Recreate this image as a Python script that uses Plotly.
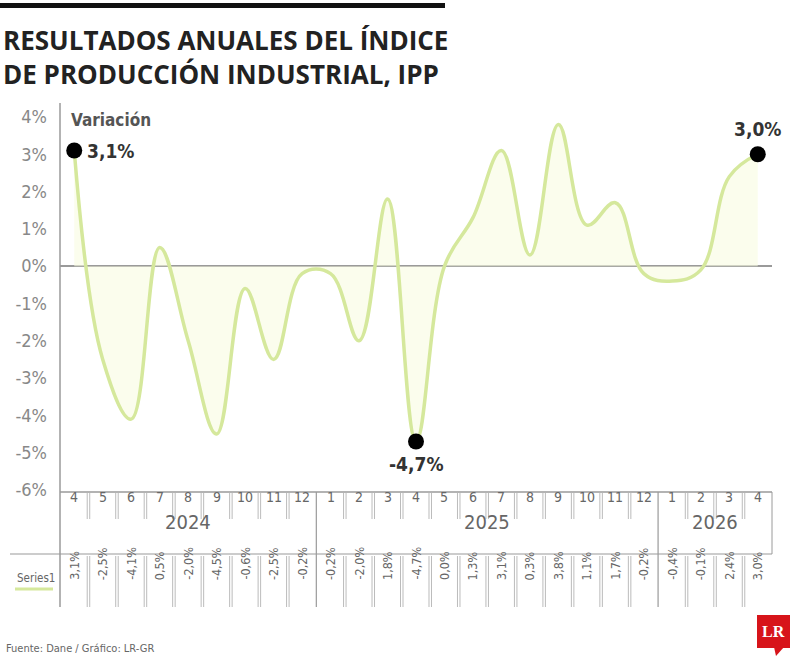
import plotly.graph_objects as go

months = ["4","5","6","7","8","9","10","11","12",
          "1","2","3","4","5","6","7","8","9","10","11","12",
          "1","2","3","4"]
years = ["2024", "2025", "2026"]
year_spans = [(0, 8), (9, 20), (21, 24)]
values = [3.1, -2.5, -4.1, 0.5, -2.0, -4.5, -0.6, -2.5, -0.2,
          -0.2, -2.0, 1.8, -4.7, 0.0, 1.3, 3.1, 0.3, 3.8, 1.1, 1.7, -0.2,
          -0.4, -0.1, 2.4, 3.0]
highlight = [0, 12, 24]
yticks = [4, 3, 2, 1, 0, -1, -2, -3, -4, -5, -6]

W, H = 800, 666
L, R, T, B = 60, 28, 105, 176
PW, PH = W - L - R, H - T - B


def px(p):
    return (p - L) / PW


def py(p):
    return (H - B - p) / PH


def fmt(v):
    return f"{v:.1f}%".replace(".", ",")


xs = list(range(len(values)))
LINE = "#d5e89c"
GRID = "#9a9a9a"
COND = "DejaVu Sans Condensed"

fig = go.Figure()
fig.add_trace(go.Scatter(
    x=xs, y=values, mode="lines",
    line=dict(color=LINE, width=3.5, shape="spline", smoothing=1.1),
    fill="tozeroy", fillcolor="rgba(248,252,225,0.6)",
    hoverinfo="skip", showlegend=False))
fig.add_trace(go.Scatter(
    x=[xs[i] for i in highlight], y=[values[i] for i in highlight],
    mode="markers", marker=dict(color="black", size=16),
    hoverinfo="skip", showlegend=False))

shapes = []
annotations = []

# top bar
shapes.append(dict(type="rect", xref="paper", yref="paper",
                   x0=px(0), x1=px(445), y0=py(3), y1=py(8),
                   fillcolor="#111111", line=dict(width=0)))
# title
annotations.append(dict(xref="paper", yref="paper", x=px(1), y=py(20),
                        xanchor="left", yanchor="top", align="left",
                        text="<b>RESULTADOS ANUALES DEL ÍNDICE<br>DE PRODUCCIÓN INDUSTRIAL, IPP</b>",
                        showarrow=False,
                        font=dict(family="Open Sans", size=26, color="#222222")))

# Variación
annotations.append(dict(xref="paper", yref="paper", x=px(69), y=py(120),
                        xanchor="left", yanchor="middle", text="<b>Variación</b>",
                        showarrow=False,
                        font=dict(family=COND, size=17, color="#555555")))

# point labels
lab_font = dict(family=COND, size=19, color="#333333")
annotations.append(dict(x=xs[0], y=values[0], text="<b>" + fmt(values[0]) + "</b>",
                        showarrow=False, xanchor="left", xshift=11, yanchor="middle",
                        font=lab_font))
annotations.append(dict(x=xs[12], y=values[12], text="<b>" + fmt(values[12]) + "</b>",
                        showarrow=False, yanchor="top", yshift=-9, font=lab_font))
annotations.append(dict(x=xs[24], y=values[24], text="<b>" + fmt(values[24]) + "</b>",
                        showarrow=False, yanchor="bottom", yshift=12, font=lab_font))

# y-axis vertical line extended through table
shapes.append(dict(type="line", xref="paper", yref="paper",
                   x0=0, x1=0, y0=py(607), y1=py(103),
                   line=dict(color=GRID, width=1.5)))
# table top line
shapes.append(dict(type="line", xref="paper", yref="paper",
                   x0=0, x1=1, y0=py(492), y1=py(492),
                   line=dict(color=GRID, width=1.5)))
# line between year row and values row
shapes.append(dict(type="line", xref="paper", yref="paper",
                   x0=px(10), x1=1, y0=py(554), y1=py(554),
                   line=dict(color=GRID, width=1.2)))
# right border month/year rows
shapes.append(dict(type="line", xref="paper", yref="paper",
                   x0=1, x1=1, y0=py(554), y1=py(492),
                   line=dict(color=GRID, width=1)))

dx = 2.5 / PW * (len(values))  # data units for 2.5 px
year_bounds = [s[1] + 0.5 for s in year_spans[:-1]]
for k in range(len(values) - 1):
    xb = k + 0.5
    if xb in year_bounds:
        shapes.append(dict(type="line", xref="x", yref="paper",
                           x0=xb, x1=xb, y0=py(607), y1=py(492),
                           line=dict(color=GRID, width=1.2)))
    else:
        for off in (-dx / 2, dx / 2):
            shapes.append(dict(type="line", xref="x", yref="paper",
                               x0=xb + off, x1=xb + off, y0=py(519), y1=py(493),
                               line=dict(color="#aaaaaa", width=0.8)))
            shapes.append(dict(type="line", xref="x", yref="paper",
                               x0=xb + off, x1=xb + off, y0=py(607), y1=py(556),
                               line=dict(color="#aaaaaa", width=0.8)))

for i, m in enumerate(months):
    annotations.append(dict(x=i, y=py(507), xref="x", yref="paper", text=m,
                            showarrow=False,
                            font=dict(family=COND, size=14, color="#666666")))
    annotations.append(dict(x=i, y=py(582), xref="x", yref="paper", text=fmt(values[i]),
                            textangle=-90, showarrow=False,
                            font=dict(family=COND, size=12.5, color="#666666")))
for yl, (a, b) in zip(years, year_spans):
    annotations.append(dict(x=(a + b) / 2, y=py(536), xref="x", yref="paper", text=yl,
                            showarrow=False,
                            font=dict(family=COND, size=20, color="#666666")))

# legend
annotations.append(dict(xref="paper", yref="paper", x=px(15), y=py(578), text="Series1",
                        xanchor="left", yanchor="middle", showarrow=False,
                        font=dict(family=COND, size=11.5, color="#666666")))
shapes.append(dict(type="line", xref="paper", yref="paper",
                   x0=px(15), x1=px(53), y0=py(589), y1=py(589),
                   line=dict(color=LINE, width=3)))

# footer
annotations.append(dict(xref="paper", yref="paper", x=px(4), y=py(648),
                        xanchor="left", yanchor="middle",
                        text="Fuente: Dane / Gráfico: LR-GR", showarrow=False,
                        font=dict(family=COND, size=11, color="#666666")))
# logo
shapes.append(dict(type="rect", xref="paper", yref="paper",
                   x0=px(757), x1=px(790), y0=py(648), y1=py(615),
                   fillcolor="#d7141a", line=dict(width=0)))
shapes.append(dict(type="path", xref="paper", yref="paper",
                   path=f"M {px(774)} {py(647)} L {px(784)} {py(647)} L {px(776)} {py(656)} Z",
                   fillcolor="#d7141a", line=dict(width=0)))
annotations.append(dict(xref="paper", yref="paper", x=px(773.5), y=py(631.5),
                        xanchor="center", yanchor="middle",
                        text="<b>LR</b>", showarrow=False,
                        font=dict(family="Liberation Serif", size=16, color="white")))

fig.update_layout(
    width=W, height=H,
    margin=dict(l=L, r=R, t=T, b=B),
    plot_bgcolor="white", paper_bgcolor="white",
    shapes=shapes, annotations=annotations,
    xaxis=dict(range=[-0.5, len(values) - 0.5], showgrid=False, zeroline=False,
               showticklabels=False, showline=False, fixedrange=True),
    yaxis=dict(range=[-6, 4.32], tickvals=yticks,
               ticktext=[f"{t}%" for t in yticks],
               showgrid=False, zeroline=True, zerolinecolor=GRID, zerolinewidth=1.5,
               showline=False, ticks="", ticklabelstandoff=12,
               tickfont=dict(family=COND, size=18, color="#888888")),
)

fig.write_html("out.html")
